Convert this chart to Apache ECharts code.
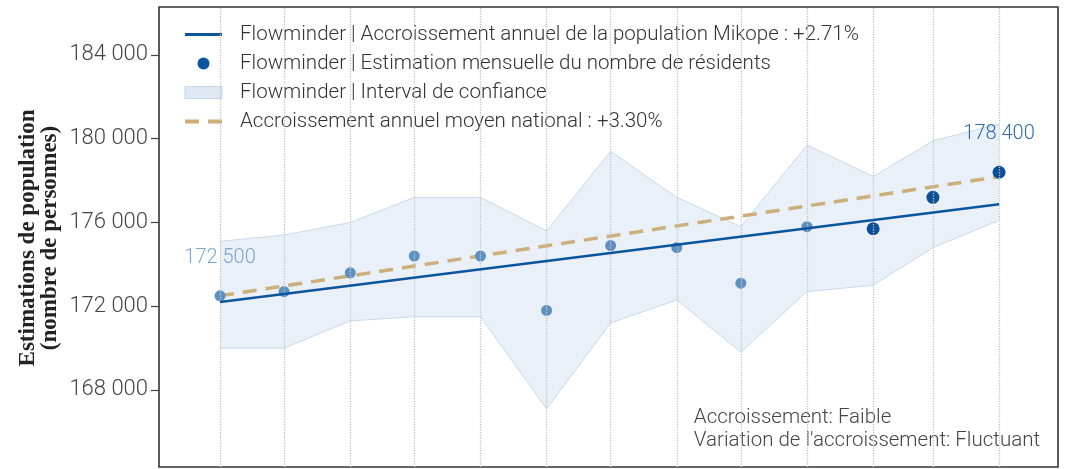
<!DOCTYPE html>
<html>
<head>
<meta charset="utf-8">
<script src="https://cdn.jsdelivr.net/npm/echarts@6/dist/echarts.min.js"></script>
<style>
  html, body { margin: 0; padding: 0; background: #ffffff; }
  #chart { width: 1067px; height: 469px; }
</style>
</head>
<body>
<div id="chart"></div>
<script>
// Monthly resident estimates for Mikope
const months = ['2022-04-01', '2022-05-01', '2022-06-01', '2022-07-01', '2022-08-01', '2022-09-01',
                '2022-10-01', '2022-11-01', '2022-12-01', '2023-01-01', '2023-02-01', '2023-03-01', '2023-04-01'];
const residents = [172500, 172700, 173600, 174400, 174400, 171800, 174900, 174800, 173100, 175800, 175700, 177200, 178400];
const ciLower = [170000, 170000, 171300, 171500, 171500, 167100, 171200, 172300, 169800, 172700, 173000, 174800, 176100];
const ciUpper = [175100, 175400, 176000, 177200, 177200, 175600, 179400, 177200, 175800, 179700, 178200, 179900, 180700];
// Fitted annual growth lines (values at first and last month)
const trendMikope = [172200, 176870];
const trendNational = [172500, 178190];
const yTickValues = [168000, 172000, 176000, 180000, 184000];
const recentFrom = 10; // index of the first of the most recent months

const seriesNames = {
  trend: 'Flowminder | Accroissement annuel de la population Mikope : +2.71%',
  points: 'Flowminder | Estimation mensuelle du nombre de résidents',
  band: 'Flowminder | Interval de confiance',
  national: 'Accroissement annuel moyen national : +3.30%'
};

const colors = {
  trend: '#0b559f',
  recent: '#0b4f97',
  earlier: '#5d8fc1',
  national: '#cbb07c',
  bandEdge: '#c9d9ea'
};

const DAY = 86400000;
const ts = s => { const p = s.split('-').map(Number); return new Date(p[0], p[1] - 1, p[2]).getTime(); };
const fmt = v => String(v).replace(/\B(?=(\d{3})+(?!\d))/g, ' ');

const x = months.map(ts);
const xFirst = x[0], xLast = x[x.length - 1];

const chart = echarts.init(document.getElementById('chart'), null, { renderer: 'canvas' });

const font = 'Roboto, "Noto Sans", sans-serif';

const option = {
  animation: false,
  grid: {
    left: 159, right: 9, top: 7, bottom: 2,
    show: true, borderColor: '#333333', borderWidth: 1.6, backgroundColor: 'transparent'
  },
  xAxis: {
    type: 'time',
    min: xFirst - 28.6 * DAY,
    max: xLast + 27.6 * DAY,
    axisLine: { show: false },
    axisTick: { show: false },
    axisLabel: { show: false },
    splitLine: { show: false }
  },
  yAxis: {
    type: 'value',
    min: 164322,
    max: 186292,
    axisLine: { show: false },
    axisTick: { show: true, length: 8, lineStyle: { color: '#444', width: 1.2 }, customValues: yTickValues },
    axisLabel: {
      customValues: yTickValues,
      formatter: v => fmt(v),
      color: '#444', fontFamily: font, fontWeight: 300, fontSize: 22, margin: 11
    },
    splitLine: { show: false }
  },
  legend: {
    orient: 'vertical',
    left: 183, top: 23, padding: 0,
    itemWidth: 37, itemHeight: 12, itemGap: 6,
    textStyle: { fontFamily: font, fontWeight: 300, fontSize: 20.5, color: '#333', lineHeight: 23, padding: [0, 0, 0, 13] },
    data: [
      { name: seriesNames.trend, itemStyle: { opacity: 0 }, lineStyle: { color: colors.trend, width: 3, type: 'solid' } },
      { name: seriesNames.points, icon: 'circle', itemStyle: { color: colors.trend, opacity: 1 } },
      { name: seriesNames.band, icon: 'rect', itemStyle: { color: '#dfe9f3', borderColor: '#c6d7e9', borderWidth: 1 } },
      { name: seriesNames.national, itemStyle: { opacity: 0 }, lineStyle: { color: colors.national, width: 4, type: [14, 9] } }
    ]
  },
  graphic: [
    {
      type: 'text', x: 39, y: 238, rotation: Math.PI / 2,
      style: {
        text: 'Estimations de population\n(nombre de personnes)',
        fill: '#222', font: 'bold 23px "Liberation Serif", serif',
        align: 'center', verticalAlign: 'middle', lineHeight: 22
      }
    },
    {
      type: 'text', right: 27, top: 406,
      style: {
        text: 'Accroissement: Faible\nVariation de l\'accroissement: Fluctuant',
        fill: '#444', font: '300 20.5px ' + font, align: 'right', lineHeight: 23
      }
    }
  ],
  series: [
    {
      name: 'ci-base', type: 'line', stack: 'ci', symbol: 'none', silent: true, z: 1,
      lineStyle: { color: colors.bandEdge, width: 1 },
      data: x.map((t, i) => [t, ciLower[i]]),
      markLine: {
        silent: true, symbol: ['none', 'none'], label: { show: false },
        lineStyle: { color: '#c4c4c4', type: 'dotted', width: 1.3 },
        data: x.map(t => ({ xAxis: t }))
      }
    },
    {
      name: seriesNames.band, type: 'line', stack: 'ci', symbol: 'none', silent: true, z: 1,
      lineStyle: { color: colors.bandEdge, width: 1 },
      areaStyle: { color: 'rgba(160, 192, 222, 0.33)' },
      data: x.map((t, i) => [t, ciUpper[i] - ciLower[i]])
    },
    {
      name: seriesNames.national, type: 'line', symbol: 'none', z: 3,
      lineStyle: { color: colors.national, width: 3.5, type: [14, 9] },
      data: [[xFirst, trendNational[0]], [xLast, trendNational[1]]]
    },
    {
      name: seriesNames.points, type: 'scatter', z: 4,
      itemStyle: { color: colors.trend, opacity: 1 },
      data: x.map((t, i) => {
        const recent = i >= recentFrom;
        const item = {
          value: [t, residents[i]],
          symbolSize: recent ? 13 : 11,
          itemStyle: { color: recent ? colors.recent : colors.earlier, opacity: 1 }
        };
        if (i === 0 || i === x.length - 1) {
          item.label = {
            show: true, position: 'top', distance: 22,
            formatter: p => fmt(p.value[1]),
            fontFamily: font, fontWeight: 300, fontSize: 20,
            color: i === 0 ? '#7ea7cf' : '#2e6cac'
          };
        }
        return item;
      })
    },
    {
      name: seriesNames.trend, type: 'line', symbol: 'none', z: 5,
      lineStyle: { color: colors.trend, width: 2.6 },
      data: [[xFirst, trendMikope[0]], [xLast, trendMikope[1]]]
    }
  ]
};

chart.setOption(option);
</script>
</body>
</html>
